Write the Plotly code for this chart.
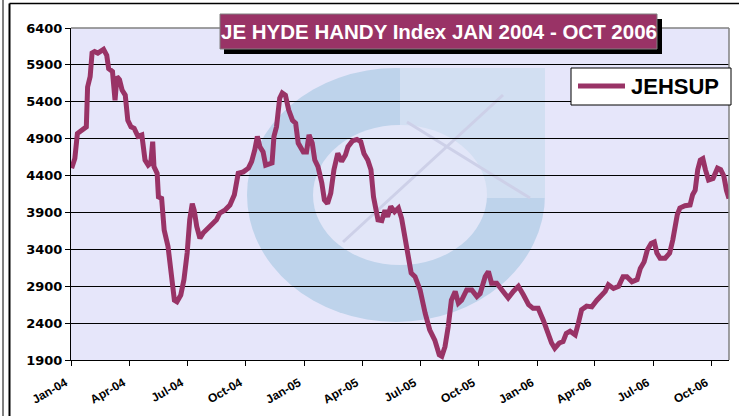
import plotly.graph_objects as go

# ---------------- data ----------------
dates = [
    "2004-01-02", "2004-01-07", "2004-01-11", "2004-01-19", "2004-01-25", "2004-01-27", "2004-01-31",
    "2004-02-03", "2004-02-07", "2004-02-12", "2004-02-17", "2004-02-21", "2004-02-26", "2004-02-29",
    "2004-03-06", "2004-03-10", "2004-03-13", "2004-03-17", "2004-03-21", "2004-03-26", "2004-03-30",
    "2004-04-04", "2004-04-09", "2004-04-15", "2004-04-21", "2004-04-26", "2004-05-01", "2004-05-05",
    "2004-05-08", "2004-05-10", "2004-05-15", "2004-05-17", "2004-05-22", "2004-05-26", "2004-06-01",
    "2004-06-06", "2004-06-11", "2004-06-15", "2004-06-21", "2004-06-26", "2004-07-01", "2004-07-05",
    "2004-07-09", "2004-07-12", "2004-07-16", "2004-07-21", "2004-07-26", "2004-08-03", "2004-08-11",
    "2004-08-16", "2004-08-21", "2004-08-29", "2004-09-06", "2004-09-13", "2004-09-19", "2004-09-27",
    "2004-10-05", "2004-10-10", "2004-10-15", "2004-10-19", "2004-10-23", "2004-10-28", "2004-11-01",
    "2004-11-08", "2004-11-11", "2004-11-14", "2004-11-18", "2004-11-23", "2004-11-27", "2004-12-02",
    "2004-12-07", "2004-12-13", "2004-12-18", "2004-12-22", "2004-12-30",
    "2005-01-04", "2005-01-08", "2005-01-13", "2005-01-17", "2005-01-22", "2005-01-28", "2005-02-01",
    "2005-02-06", "2005-02-11", "2005-02-16", "2005-02-22", "2005-02-28", "2005-03-06", "2005-03-10",
    "2005-03-17", "2005-03-24", "2005-03-30", "2005-04-04", "2005-04-10", "2005-04-15", "2005-04-19",
    "2005-04-22", "2005-04-26", "2005-05-02", "2005-05-07", "2005-05-11", "2005-05-16", "2005-05-22",
    "2005-05-28", "2005-06-02", "2005-06-07", "2005-06-12", "2005-06-17", "2005-06-23", "2005-06-27",
    "2005-07-01", "2005-07-09", "2005-07-16", "2005-07-24", "2005-07-31", "2005-08-04", "2005-08-09",
    "2005-08-14", "2005-08-19", "2005-08-25", "2005-08-30", "2005-09-04", "2005-09-12", "2005-09-20",
    "2005-09-28", "2005-10-03", "2005-10-11", "2005-10-16", "2005-10-21", "2005-10-29", "2005-11-06",
    "2005-11-16", "2005-11-24", "2005-12-02", "2005-12-10", "2005-12-18", "2005-12-25",
    "2006-01-02", "2006-01-10", "2006-01-15", "2006-01-23", "2006-01-28", "2006-02-04", "2006-02-10",
    "2006-02-15", "2006-02-21", "2006-03-01", "2006-03-06", "2006-03-11", "2006-03-19", "2006-03-27",
    "2006-04-04", "2006-04-09", "2006-04-17", "2006-04-22", "2006-04-30", "2006-05-08", "2006-05-15",
    "2006-05-21", "2006-05-29", "2006-06-06", "2006-06-11", "2006-06-17", "2006-06-22", "2006-06-28",
    "2006-07-03", "2006-07-07", "2006-07-12", "2006-07-20", "2006-07-27", "2006-08-01", "2006-08-05",
    "2006-08-08", "2006-08-12", "2006-08-20", "2006-08-28", "2006-09-01", "2006-09-05", "2006-09-09",
    "2006-09-13", "2006-09-17", "2006-09-21", "2006-09-26", "2006-10-03", "2006-10-10", "2006-10-15",
    "2006-10-20", "2006-10-24", "2006-10-28",
]

jehsup = [
    4500, 4630, 4970, 5020, 5060, 5600, 5740,
    6060, 6080, 6060, 6080, 6110, 6030, 5850,
    5810, 5420, 5740, 5700, 5560, 5490, 5150,
    5060, 5040, 4930, 4950, 4610, 4540, 4570,
    4860, 4520, 4430, 4110, 4090, 3660, 3440,
    3080, 2710, 2690, 2780, 2990, 3350, 3800,
    4020, 3930, 3710, 3550, 3620, 3690, 3750,
    3800, 3890, 3930, 4000, 4140, 4430, 4450,
    4500, 4590, 4750, 4930, 4790, 4720, 4540,
    4570, 4570, 4930, 5060, 5450, 5520, 5490,
    5290, 5150, 5110, 4840, 4720,
    4720, 4950, 4840, 4610, 4520, 4300, 4070,
    4020, 4160, 4480, 4700, 4590, 4680, 4790,
    4870, 4890, 4860, 4700, 4610, 4480, 4110,
    3930, 3800, 3790, 3930, 3840, 3980, 3910,
    3960, 3820, 3570, 3350, 3080, 3030, 2940,
    2850, 2530, 2310, 2170, 1970, 1950, 2080,
    2350, 2710, 2830, 2670, 2710, 2850, 2850,
    2760, 2800, 3030, 3100, 2940, 2940, 2850,
    2740, 2830, 2900, 2780, 2650, 2600,
    2600, 2440, 2310, 2130, 2060, 2130, 2150,
    2260, 2290, 2240, 2400, 2580, 2630, 2620,
    2710, 2760, 2830, 2920, 2870, 2900, 3030,
    3030, 2960, 2990, 3140, 3230, 3390, 3480,
    3500, 3350, 3280, 3280, 3350, 3530, 3710,
    3870, 3960, 3990, 4000, 4140, 4200, 4480,
    4610, 4630, 4480, 4340, 4360, 4500, 4480,
    4390, 4200, 4090,
]

tick_dates = ["2004-01-01", "2004-04-01", "2004-07-01", "2004-10-01",
              "2005-01-01", "2005-04-01", "2005-07-01", "2005-10-01",
              "2006-01-01", "2006-04-01", "2006-07-01", "2006-10-01"]
tick_labels = ["Jan-04", "Apr-04", "Jul-04", "Oct-04", "Jan-05", "Apr-05",
               "Jul-05", "Oct-05", "Jan-06", "Apr-06", "Jul-06", "Oct-06"]
y_ticks = [1900, 2400, 2900, 3400, 3900, 4400, 4900, 5400, 5900, 6400]

series_name = "JEHSUP"
title_text = "JE HYDE HANDY Index JAN 2004 - OCT 2006"

# ---------------- styling / geometry ----------------
W, H = 739, 416
L, R, T, B = 71, 729, 28, 360          # plot-area pixel edges
MAROON = "#993366"
NBSP = "\u00a0"


def px(x):
    return (x - L) / (R - L)


def py(y):
    return (B - y) / (B - T)


fig = go.Figure()
fig.add_trace(go.Scatter(
    x=dates, y=jehsup, mode="lines", name=series_name,
    line=dict(color=MAROON, width=5), showlegend=False,
))

shapes = []
# faint watermark logo behind the grid
shapes.append(dict(type="circle", xref="paper", yref="paper", layer="below",
                   x0=px(247), x1=px(545), y0=py(322), y1=py(68),
                   fillcolor="rgb(190,211,235)", line=dict(width=0)))
shapes.append(dict(type="rect", xref="paper", yref="paper", layer="below",
                   x0=px(400), x1=px(545), y0=py(198), y1=py(68),
                   fillcolor="rgb(210,223,242)", line=dict(width=0)))
shapes.append(dict(type="circle", xref="paper", yref="paper", layer="below",
                   x0=px(313), x1=px(487), y0=py(265), y1=py(125),
                   fillcolor="rgb(226,230,248)", line=dict(width=0)))
shapes.append(dict(type="line", xref="paper", yref="paper", layer="below",
                   x0=px(343), y0=py(242), x1=px(503), y1=py(95),
                   line=dict(color="rgb(205,208,232)", width=3)))
shapes.append(dict(type="line", xref="paper", yref="paper", layer="below",
                   x0=px(407), y0=py(122), x1=px(530), y1=py(198),
                   line=dict(color="rgb(205,208,232)", width=3)))
# plot-area border (top / right)
shapes.append(dict(type="line", xref="paper", yref="paper", x0=0, x1=1, y0=1, y1=1,
                   line=dict(color="#808080", width=1.5)))
shapes.append(dict(type="line", xref="paper", yref="paper", x0=1, x1=1, y0=0, y1=1,
                   line=dict(color="#808080", width=1.5)))
# title box with drop shadow
shapes.append(dict(type="rect", xref="paper", yref="paper",
                   x0=px(224), x1=px(662), y0=py(54), y1=py(19),
                   fillcolor="black", line=dict(width=0)))
shapes.append(dict(type="rect", xref="paper", yref="paper",
                   x0=px(220), x1=px(657), y0=py(49), y1=py(14),
                   fillcolor=MAROON, line=dict(color="#808080", width=1)))
# legend box and sample line
shapes.append(dict(type="rect", xref="paper", yref="paper",
                   x0=px(571), x1=px(731), y0=py(105), y1=py(68),
                   fillcolor="white", line=dict(color="black", width=1)))
shapes.append(dict(type="line", xref="paper", yref="paper",
                   x0=px(578), x1=px(625), y0=py(86), y1=py(86),
                   line=dict(color=MAROON, width=5)))
# chart-area frame
shapes.append(dict(type="line", xref="paper", yref="paper",
                   x0=px(3), x1=px(3), y0=py(H + 5), y1=py(-5),
                   line=dict(color="black", width=1)))
shapes.append(dict(type="line", xref="paper", yref="paper",
                   x0=px(9.5), x1=px(9.5), y0=py(H + 5), y1=py(3.5),
                   line=dict(color="black", width=2)))
shapes.append(dict(type="line", xref="paper", yref="paper",
                   x0=px(9.5), x1=px(W + 5), y0=py(3.5), y1=py(3.5),
                   line=dict(color="black", width=1.5)))

annotations = [
    dict(text=title_text, xref="paper", yref="paper", x=px(439), y=py(31.5),
         xanchor="center", yanchor="middle", showarrow=False,
         font=dict(family="Arial, Liberation Sans", size=20.5, color="white", weight="bold")),
    dict(text=series_name, xref="paper", yref="paper", x=px(629), y=py(86.5),
         xanchor="left", yanchor="middle", showarrow=False,
         font=dict(family="Arial, Liberation Sans", size=22, color="black", weight="bold")),
]

fig.update_layout(
    width=W, height=H,
    margin=dict(l=L, r=W - R, t=T, b=H - B, pad=0),
    paper_bgcolor="white",
    plot_bgcolor="#E6E6FA",
    showlegend=False,
    shapes=shapes,
    annotations=annotations,
    xaxis=dict(
        type="date", range=["2004-01-01", "2006-10-28"],
        tickmode="array", tickvals=tick_dates,
        ticktext=[t + NBSP * 2 for t in tick_labels],
        tickangle=-30, ticks="outside", ticklen=5, tickcolor="black",
        ticklabelstandoff=2,
        showline=True, linecolor="black", linewidth=1, showgrid=False,
        zeroline=False, automargin=False,
        tickfont=dict(family="Arial, Liberation Sans", size=12, color="black", weight="bold"),
    ),
    yaxis=dict(
        range=[1900, 6400], tickmode="array", tickvals=y_ticks,
        ticks="outside", ticklen=5, tickcolor="black",
        showline=True, linecolor="black", linewidth=1, automargin=False,
        showgrid=True, gridcolor="black", gridwidth=1, zeroline=False,
        tickfont=dict(family="DejaVu Sans", size=13, color="black", weight="bold"),
    ),
)

fig.write_html(
    "out.html",
    config={"displayModeBar": False},
    post_script="document.body.style.margin='0px';document.body.style.overflow='hidden';",
)
